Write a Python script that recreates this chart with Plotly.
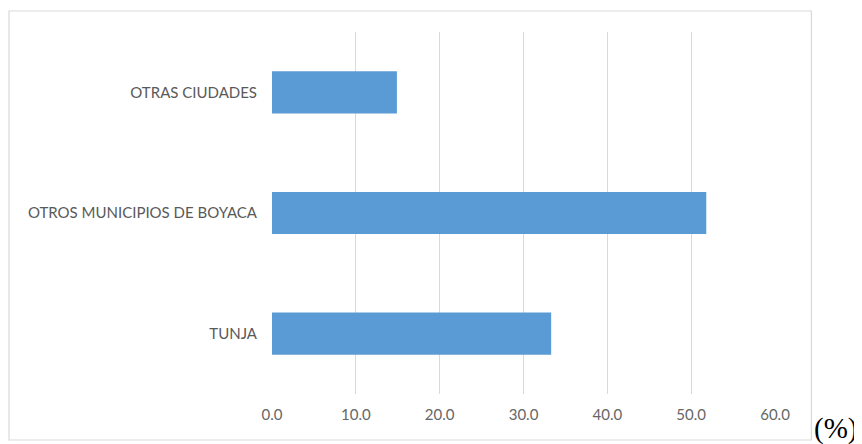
import plotly.graph_objects as go

categories = ["TUNJA", "OTROS MUNICIPIOS DE BOYACA", "OTRAS CIUDADES"]
values = [33.3, 51.8, 14.9]
tick_vals = [0, 10, 20, 30, 40, 50, 60]

OFF = 8  # browser body margin
W, H = 862 - OFF, 444 - OFF
L, R, T, B = 271.5 - OFF, 775.5 - OFF, 32 - OFF, 394 - OFF
pw, ph = R - L, B - T

def px(x):
    return (x - OFF - L) / pw

def py(y):
    return (B - (y - OFF)) / ph

fig = go.Figure(go.Bar(
    x=values, y=categories, orientation="h",
    marker=dict(color="#5b9bd5", line=dict(width=0)),
    width=0.35,
))

fig.update_layout(
    width=W, height=H,
    margin=dict(l=L, r=W - R, t=T, b=H - B),
    paper_bgcolor="white", plot_bgcolor="white",
    showlegend=False,
    font=dict(family="Lato", size=15, color="#595959"),
    xaxis=dict(range=[0, 60], tickvals=tick_vals, tickformat=".1f",
               showgrid=True, gridcolor="#d9d9d9", gridwidth=1,
               zeroline=False, showline=False, ticks="",
               ticklabelstandoff=10,
               tickfont=dict(family="Lato", size=15, color="#666666")),
    yaxis=dict(categoryorder="array", categoryarray=categories,
               showgrid=False, zeroline=False, showline=False, ticks="",
               ticklabelstandoff=14,
               tickfont=dict(family="Lato", size=15, color="#595959")),
    shapes=[dict(type="rect", xref="paper", yref="paper",
                 x0=px(8), x1=px(812), y0=py(440), y1=py(11),
                 line=dict(color="#d9d9d9", width=1.2), layer="below")],
    annotations=[dict(text="(%)", xref="paper", yref="paper",
                      x=px(836), y=py(428), showarrow=False,
                      xanchor="center", yanchor="middle",
                      font=dict(family="Liberation Serif", size=29, color="black"))],
)

fig.write_html("out.html")
